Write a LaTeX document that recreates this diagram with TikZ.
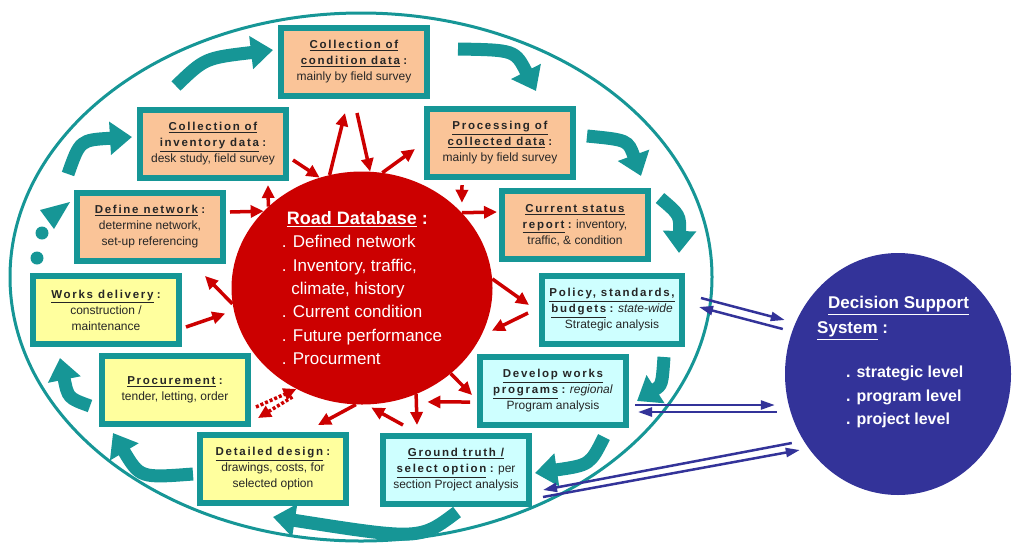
\documentclass[tikz,border=0pt]{standalone}
\usepackage{fontspec}
\setmainfont{Liberation Sans}
\newfontfamily\headfont[LetterSpace=15]{Liberation Sans}
\usetikzlibrary{arrows.meta,shapes.geometric}

\definecolor{cyc}{RGB}{22,150,150}
\definecolor{peach}{RGB}{250,196,152}
\definecolor{lemon}{RGB}{255,255,158}
\definecolor{ice}{RGB}{206,255,255}
\definecolor{dbred}{RGB}{204,0,0}
\definecolor{dssblue}{RGB}{51,51,153}

\newcommand{\hd}[1]{{\headfont\bfseries\fontsize{11.5}{16}\selectfont\underline{#1}}}
\newcommand{\cln}{{\headfont\bfseries\fontsize{11.5}{16}\selectfont:}}

\begin{document}
\begin{tikzpicture}[
        x=1pt, y=-1pt, % pixel grid of the drawing
        task/.style = {draw=cyc, line width=6pt, minimum width=146pt, minimum height=68pt,
            inner sep=1pt, align=center, text=black!85, font=\fontsize{12}{16}\selectfont}, % process boxes
        turn/.style = {draw=cyc, line width=13pt, -{Triangle[length=22pt,width=32pt]}}, % cycle arrows
        spoke/.style = {draw=dbred, line width=3.5pt, -{Triangle[length=13pt,width=12pt]}}, % database arrows
        feed/.style = {draw=dssblue, line width=2.5pt, -{Triangle[length=14pt,width=9pt]}}, % decision support links
    ]
    \useasboundingbox (0,0) rectangle (1017,542);

    % the cycle
    \draw[cyc, line width=3pt] (361,277) ellipse [x radius=351, y radius=264];
    \draw[turn] (176,86) .. controls (205,58) .. (273,50);
    \draw[turn] (458,49) .. controls (515,50) .. (536,91);
    \draw[turn] (587,136) .. controls (628,140) .. (641,176);
    \draw[turn] (660,198) .. controls (680,215) .. (679,253);
    \draw[turn] (664,357) .. controls (662,385) .. (637,401);
    \draw[turn] (604,437) .. controls (590,465) .. (535,473);
    \draw[turn] (457,512) .. controls (420,540) .. (273,517);
    \draw[turn] (193,474) .. controls (140,478) .. (113,433);
    \draw[turn] (90,406) .. controls (68,398) .. (60,358);
    \draw[turn] (68,174) .. controls (80,140) .. (132,137);
    \fill[cyc] (40,210) -- (70,202) -- (54,229) -- cycle;
    \fill[cyc] (42,233) circle (6.5pt) (37,258) circle (6.5pt);

    \node[task, fill=peach] (cond) at (354,62) {\hd{Collection of}\\\hd{condition data} \cln\\mainly by field survey};
    \node[task, fill=peach] (inv) at (213,144) {\hd{Collection of}\\\hd{inventory data} \cln\\desk study, field survey};
    \node[task, fill=peach] (prcs) at (500,143) {\hd{Processing of}\\\hd{collected data} \cln\\mainly by field survey};
    \node[task, fill=peach] (stat) at (575,225) {\hd{Current status}\\\hd{report} \cln{} inventory,\\traffic, \& condition};
    \node[task, fill=peach] (defn) at (150,227) {\hd{Define network} \cln\\determine network,\\set-up referencing};
    \node[task, fill=lemon] (works) at (106,310) {\hd{Works delivery} \cln\\construction /\\maintenance};
    \node[task, fill=lemon] (procu) at (175,390) {\hd{Procurement} \cln\\tender, letting, order};
    \node[task, fill=lemon] (design) at (273,469) {\hd{Detailed design} \cln\\drawings, costs, for\\selected option};
    \node[task, fill=ice] (truth) at (456,470) {\hd{Ground truth /}\\\hd{select option} \cln{} per\\section Project analysis};
    \node[task, fill=ice] (devel) at (553,391) {\hd{Develop works}\\\hd{programs} \cln{} \textit{regional}\\Program analysis};
    \node[task, fill=ice, minimum width=140pt] (policy) at (612,310) {\hd{Policy, standards,}\\\hd{budgets} \cln{} \textit{state-wide}\\Strategic analysis};

    % road database
    \node[ellipse, fill=dbred, minimum width=261pt, minimum height=233pt, inner sep=0pt,
        align=left, text=white, font=\fontsize{17}{23.3}\selectfont] (db) at (362,288)
        {\hspace*{5pt}{\bfseries\fontsize{18}{23.3}\selectfont\underline{Road Database} :}\\
         . Defined network\\. Inventory, traffic,\\\hspace*{9.5pt}climate, history\\
         . Current condition\\. Future performance\hspace*{12pt}\\. Procurment};

    \draw[spoke] ([xshift=4pt,yshift=-16pt]inv.east) -- (db.111);
    \draw[spoke] (db.106) -- ([xshift=-9pt,yshift=-14pt]cond.south);
    \draw[spoke] ([xshift=3pt,yshift=-14pt]cond.south) -- (db.86);
    \draw[spoke] (db.80) -- ([xshift=-9pt,yshift=-6pt]prcs.west);
    \draw[spoke, shorten >=10pt] ([xshift=-38pt,yshift=-5pt]prcs.south) -- (db.37);
    \draw[spoke] (db.37) -- ([xshift=-2pt,yshift=13pt]stat.west);
    \draw[spoke] ([xshift=4pt,yshift=15pt]defn.east) -- (db.142);
    \draw[spoke] (db.139) -- ([xshift=55pt,yshift=-4pt]inv.south);
    \draw[spoke] (db.187) -- ([xshift=55pt,yshift=-12pt]defn.south);
    \draw[spoke, shorten >=9pt] ([xshift=4pt,yshift=-17pt]works.east) -- (db.190);
    \draw[spoke] (db.4) -- ([xshift=-10pt,yshift=5pt]policy.west);
    \draw[spoke, shorten >=12pt] ([xshift=-11pt,yshift=-3pt]policy.west) -- (db.-22);
    \draw[spoke] (db.-44) -- ([xshift=-5pt,yshift=-4pt]devel.west);
    \draw[spoke, shorten >=37pt] ([xshift=-7pt,yshift=-11pt]devel.west) -- (db.-76);
    \draw[spoke] (db.-63) -- ([xshift=-39pt,yshift=8pt]truth.north);
    \draw[spoke, shorten >=6pt] ([xshift=-53pt,yshift=8pt]truth.north) -- (db.-88);
    \draw[spoke] (db.-93) -- ([xshift=45pt,yshift=7pt]design.north);
    \draw[spoke, dash pattern=on 3pt off 2pt] ([xshift=5pt,yshift=-17pt]procu.east) -- (db.237);
    \draw[spoke, dash pattern=on 3pt off 2pt] ([xshift=-4pt,yshift=-8pt]db.237) -- ([xshift=7pt,yshift=-28pt]procu.east);

    % decision support system
    \node[ellipse, fill=dssblue, minimum width=226pt, minimum height=242pt, inner sep=0pt] (dss) at (898,374) {};
    \node[anchor=west, align=left, inner sep=0pt, text=white, font=\bfseries\fontsize{17}{25}\selectfont] (dsshead) at (817,318)
        {\hspace*{11pt}\underline{Decision Support}\\\underline{System} :};
    \node[anchor=west, align=left, inner sep=0pt, text=white, font=\bfseries\fontsize{16}{23.5}\selectfont] (dsslist) at (846,397)
        {. strategic level\\. program level\\. project level};

    \draw[feed] ([xshift=16pt,yshift=12pt]policy.east) -- ([yshift=54pt]dss.west);
    \draw[feed] ([xshift=-2pt,yshift=45pt]dss.west) -- ([xshift=14pt,yshift=3pt]policy.east);
    \draw[feed] ([xshift=6pt,yshift=-14pt]devel.east) -- ([xshift=-10pt,yshift=-31pt]dss.west);
    \draw[feed] ([xshift=-8pt,yshift=-38pt]dss.west) -- ([xshift=9pt,yshift=-21pt]devel.east);
    \draw[feed] ([xshift=7pt,yshift=-69pt]dss.west) -- ([xshift=11pt,yshift=-20pt]truth.east);
    \draw[feed] ([xshift=11pt,yshift=-27pt]truth.east) -- ([xshift=15pt,yshift=-76pt]dss.west);
\end{tikzpicture}
\end{document}
